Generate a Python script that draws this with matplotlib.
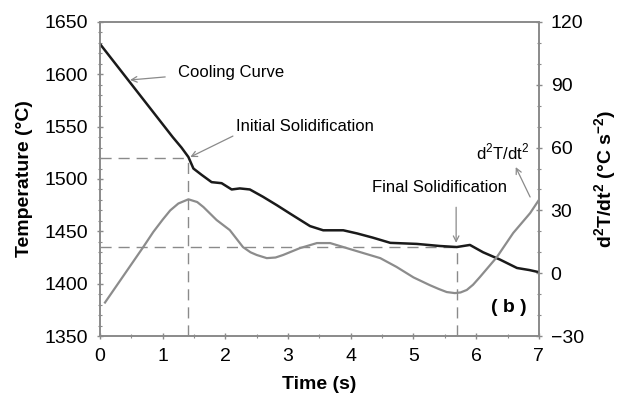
import numpy as np
import matplotlib
matplotlib.use("Agg")
import matplotlib.pyplot as plt

plt.rcParams['font.family'] = ['Liberation Sans', 'DejaVu Sans']
plt.rcParams['mathtext.fontset'] = 'custom'
plt.rcParams['mathtext.rm'] = 'Liberation Sans'
plt.rcParams['mathtext.bf'] = 'Liberation Sans:bold'

# cooling curve (left axis, deg C)
time_cool = [0, 1.16, 1.30, 1.41, 1.49, 1.62, 1.78, 1.94, 2.10, 2.23, 2.39, 2.60,
             2.82, 3.03, 3.19, 3.35, 3.56, 3.88, 4.10, 4.35, 4.63, 5.05, 5.42,
             5.69, 5.90, 6.11, 6.38, 6.65, 6.85, 7.0]
temp_cool = [1629, 1540, 1530, 1521, 1510, 1504, 1497, 1496, 1490, 1491, 1490, 1483,
             1475, 1467, 1461, 1455, 1451, 1451, 1448, 1444, 1439, 1438, 1436,
             1435, 1437, 1430, 1423, 1415, 1413, 1411]

# second derivative (right axis)
time_d2 = [0.08, 0.69, 0.85, 1.00, 1.12, 1.25, 1.41, 1.55, 1.65, 1.86, 2.07, 2.28,
           2.40, 2.50, 2.66, 2.80, 2.92, 3.19, 3.46, 3.67, 3.99, 4.47, 4.73,
           5.00, 5.26, 5.40, 5.53, 5.66, 5.75, 5.85, 5.95, 6.06, 6.33, 6.59,
           6.86, 7.0]
d2T = [-14, 12.5, 19.7, 25.6, 30.0, 33.3, 35.3, 34.0, 31.6, 25.4, 20.6, 12.5,
       10.0, 8.7, 7.2, 7.5, 8.7, 12, 14.4, 14.4, 11.5, 7.2, 3,
       -2, -5.7, -7.5, -9, -9.5, -9.2, -8, -5.5, -1.8, 7.7, 19.2,
       28.7, 35]

t_initial, T_initial = 1.4, 1520
t_final, T_final = 5.7, 1435

grey = '#8a8a8a'

fig = plt.figure(figsize=(6.18, 4.07), dpi=100)
ax = fig.add_axes([0.1618, 0.1744, 0.7102, 0.7716])
ax2 = ax.twinx()

ax.plot(time_cool, temp_cool, color='#1a1a1a', lw=1.8, zorder=3)
ax2.plot(time_d2, d2T, color='#8c8c8c', lw=1.6, zorder=3)

dash = dict(color=grey, lw=1.0, linestyle=(0, (8, 5)))
ax.plot([0, t_initial], [T_initial, T_initial], **dash)
ax.plot([t_initial, t_initial], [1350, T_initial], **dash)
ax.plot([0, t_final], [T_final, T_final], **dash)
ax.plot([t_final, t_final], [1350, T_final], **dash)

ax.set_xlim(0, 7)
ax.set_ylim(1350, 1650)
ax2.set_ylim(-30, 120)

ax.set_xticks(np.arange(0, 8, 1))
ax.set_xticks(np.arange(0, 7.01, 0.5), minor=True)
ax.set_yticks(np.arange(1350, 1651, 50))
ax.set_yticks(np.arange(1350, 1651, 10), minor=True)
ax2.set_yticks(np.arange(-30, 121, 30))
ax2.set_yticks(np.arange(-30, 121, 10), minor=True)

for a in (ax, ax2):
    for s in a.spines.values():
        s.set_color(grey)
        s.set_linewidth(1.2)
    a.tick_params(which='major', direction='inout', length=5, width=1, color=grey,
                  labelsize=14, pad=6)
    a.tick_params(which='minor', direction='inout', length=3, width=0.8, color=grey)

ax.set_xlabel('Time (s)', fontsize=14, fontweight='bold', labelpad=8)
ax.set_ylabel('Temperature (°C)', fontsize=14, fontweight='bold', labelpad=8)
ax2.set_ylabel(r'd$^{\mathbf{2}}$T/dt$^{\mathbf{2}}$ (°C s$^{\mathbf{-2}}$)',
               fontsize=14, fontweight='bold', labelpad=6)

arrow = dict(arrowstyle='->', color=grey, lw=0.9, shrinkA=0, shrinkB=0)
ax.annotate('', xy=(0.48, 1594.6), xytext=(1.04, 1597.5), arrowprops=arrow)
ax.text(1.24, 1602, 'Cooling Curve', fontsize=12, va='center', ha='left')

ax.annotate('', xy=(1.44, 1521), xytext=(2.12, 1541), arrowprops=arrow)
ax.text(2.17, 1550, 'Initial Solidification', fontsize=12, va='center', ha='left')

ax.annotate('', xy=(5.68, 1439), xytext=(5.68, 1473), arrowprops=arrow)
ax.text(4.34, 1491.5, 'Final Solidification', fontsize=12, va='center', ha='left')

ax2.annotate('', xy=(6.63, 50.7), xytext=(6.86, 36.4), arrowprops=arrow)
ax2.text(6.0, 58, r'd$^2$T/dt$^2$', fontsize=12, va='center', ha='left')

ax2.text(6.81, -16.6, '( b )', fontsize=14, fontweight='bold', va='center', ha='right')

fig.savefig('out.png', dpi=100)
